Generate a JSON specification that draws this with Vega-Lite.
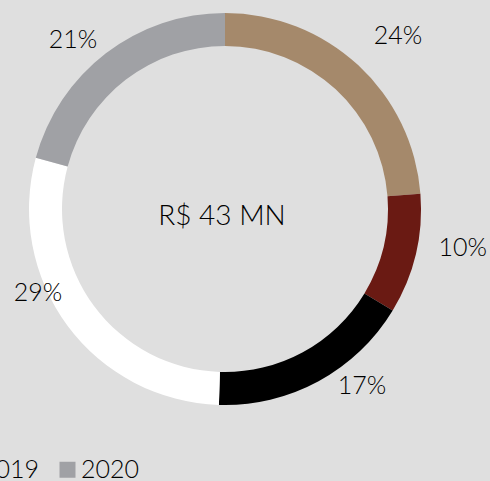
{
  "$schema": "https://vega.github.io/schema/vega-lite/v6.json",
  "width": 450,
  "height": 418,
  "autosize": {"type": "none"},
  "padding": {"left": 0, "top": 0, "right": 40, "bottom": 63},
  "background": "#dfdfdf",
  "config": {"view": {"stroke": null}, "font": "Lato"},
  "datasets": {
    "shares": [
      {"i": 1, "segment": "A", "value": 24, "label": "24%"},
      {"i": 2, "segment": "B", "value": 10, "label": "10%"},
      {"i": 3, "segment": "C", "value": 17, "label": "17%"},
      {"i": 4, "segment": "D", "value": 29, "label": "29%"},
      {"i": 5, "segment": "E", "value": 21, "label": "21%"}
    ],
    "years": [{"year": "2019"}, {"year": "2020"}],
    "center": [{"t": "R$ 43 MN"}]
  },
  "layer": [
    {
      "data": {"name": "shares"},
      "mark": {"type": "arc", "outerRadius": 196, "innerRadius": 163, "stroke": null},
      "encoding": {
        "theta": {"field": "value", "type": "quantitative", "stack": true},
        "order": {"field": "i", "type": "quantitative"},
        "color": {
          "field": "segment", "type": "nominal",
          "scale": {"domain": ["A", "B", "C", "D", "E"], "range": ["#a5896b", "#6a1a13", "#000000", "#ffffff", "#a0a1a5"]},
          "legend": null
        }
      }
    },
    {
      "data": {"name": "shares"},
      "mark": {"type": "text", "radius": 245, "thetaOffset": 0.038, "fontSize": 25, "fontWeight": 300, "color": "#000"},
      "encoding": {
        "theta": {"field": "value", "type": "quantitative", "stack": true},
        "order": {"field": "i", "type": "quantitative"},
        "text": {"condition": {"test": "datum.segment === 'A'", "field": "label"}, "value": ""}
      }
    },
    {
      "data": {"name": "shares"},
      "mark": {"type": "text", "radius": 241, "thetaOffset": -0.072, "fontSize": 25, "fontWeight": 300, "color": "#000"},
      "encoding": {
        "theta": {"field": "value", "type": "quantitative", "stack": true},
        "order": {"field": "i", "type": "quantitative"},
        "text": {"condition": {"test": "datum.segment === 'B'", "field": "label"}, "value": ""}
      }
    },
    {
      "data": {"name": "shares"},
      "mark": {"type": "text", "radius": 224, "thetaOffset": -0.161, "fontSize": 25, "fontWeight": 300, "color": "#000"},
      "encoding": {
        "theta": {"field": "value", "type": "quantitative", "stack": true},
        "order": {"field": "i", "type": "quantitative"},
        "text": {"condition": {"test": "datum.segment === 'C'", "field": "label"}, "value": ""}
      }
    },
    {
      "data": {"name": "shares"},
      "mark": {"type": "text", "radius": 205, "thetaOffset": 0.215, "fontSize": 25, "fontWeight": 300, "color": "#000"},
      "encoding": {
        "theta": {"field": "value", "type": "quantitative", "stack": true},
        "order": {"field": "i", "type": "quantitative"},
        "text": {"condition": {"test": "datum.segment === 'D'", "field": "label"}, "value": ""}
      }
    },
    {
      "data": {"name": "shares"},
      "mark": {"type": "text", "radius": 227, "thetaOffset": -0.080, "fontSize": 25, "fontWeight": 300, "color": "#000"},
      "encoding": {
        "theta": {"field": "value", "type": "quantitative", "stack": true},
        "order": {"field": "i", "type": "quantitative"},
        "text": {"condition": {"test": "datum.segment === 'E'", "field": "label"}, "value": ""}
      }
    },
    {
      "data": {"name": "center"},
      "mark": {"type": "text", "fontSize": 28, "fontWeight": 300, "dx": -3, "dy": 8, "color": "#000"},
      "encoding": {"text": {"field": "t"}}
    },
    {
      "data": {"name": "years"},
      "mark": {"type": "square", "opacity": 0},
      "encoding": {
        "fill": {
          "field": "year", "type": "nominal",
          "scale": {"domain": ["2019", "2020"], "range": ["#a5896b", "#a0a1a5"]},
          "legend": {
            "title": null, "orient": "none", "direction": "horizontal",
            "legendX": -45, "legendY": 457,
            "symbolType": "square", "symbolSize": 256, "symbolOpacity": 1, "symbolStrokeWidth": 0,
            "labelFontSize": 25, "labelFont": "Lato", "labelFontWeight": 300, "labelColor": "#000",
            "labelOffset": 1, "columnPadding": 15, "padding": 0
          }
        }
      }
    }
  ]
}
